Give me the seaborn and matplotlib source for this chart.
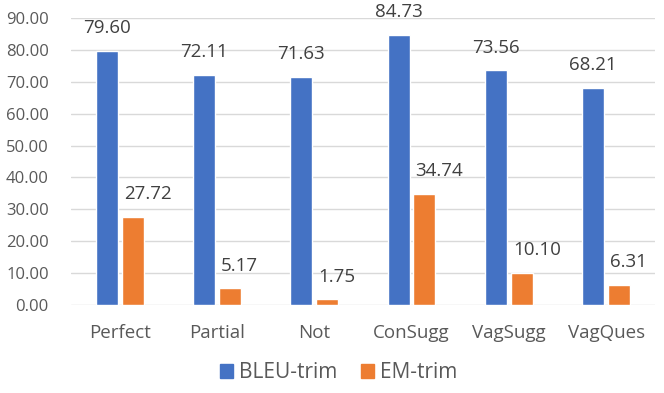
import pandas as pd
import seaborn as sns
import matplotlib.pyplot as plt

categories = ['Perfect', 'Partial', 'Not', 'ConSugg', 'VagSugg', 'VagQues']
bleu_trim = [79.60, 72.11, 71.63, 84.73, 73.56, 68.21]
em_trim = [27.72, 5.17, 1.75, 34.74, 10.10, 6.31]
series = ['BLEU-trim', 'EM-trim']

df = pd.DataFrame({
    'category': categories * 2,
    'metric': [series[0]] * len(categories) + [series[1]] * len(categories),
    'value': bleu_trim + em_trim,
})

sns.set_style('white')
plt.rcParams['font.family'] = ['Open Sans', 'DejaVu Sans']
txt = '#595959'

fig = plt.figure(figsize=(6.64, 3.93), dpi=100)
ax = fig.add_axes([0.107, 0.224, 0.879, 0.730])
sns.barplot(data=df, x='category', y='value', hue='metric',
            palette=['#4472C4', '#ED7D31'], width=0.53, gap=0.15,
            saturation=1, ax=ax, legend=False)

# blue labels centred, orange labels start at the bar's left edge
for i, cont in enumerate(ax.containers):
    for p in cont.patches:
        h = p.get_height()
        if i == 0:
            x, ha, dx = p.get_x() + p.get_width() / 2, 'center', 0
        else:
            x, ha, dx = p.get_x(), 'left', 1.5
        ax.annotate(f'{h:.2f}', xy=(x, h), xytext=(dx, 10),
                    textcoords='offset points', ha=ha, va='bottom',
                    fontsize=13.5, color='#404040')

ax.set_ylim(0, 90)
ax.set_yticks(range(0, 91, 10))
ax.set_yticklabels([f'{v:.2f}' for v in range(0, 91, 10)])
ax.yaxis.grid(True, color='#D9D9D9', linewidth=1)
ax.set_axisbelow(True)
for s in ax.spines.values():
    s.set_visible(False)
ax.tick_params(axis='y', length=0, labelsize=12, colors=txt, pad=16)
ax.tick_params(axis='x', length=0, labelsize=13.5, colors=txt, pad=14)
ax.set_xlabel('')
ax.set_ylabel('')

handles = [plt.Rectangle((0, 0), 1, 1, color=c) for c in ['#4472C4', '#ED7D31']]
fig.legend(handles, series, loc='center', bbox_to_anchor=(0.51, 0.051), ncol=2,
           frameon=False, fontsize=15, labelcolor=txt, handlelength=0.65,
           handleheight=0.65, handletextpad=0.3, columnspacing=1.1)

fig.savefig('out.png', dpi=100)
